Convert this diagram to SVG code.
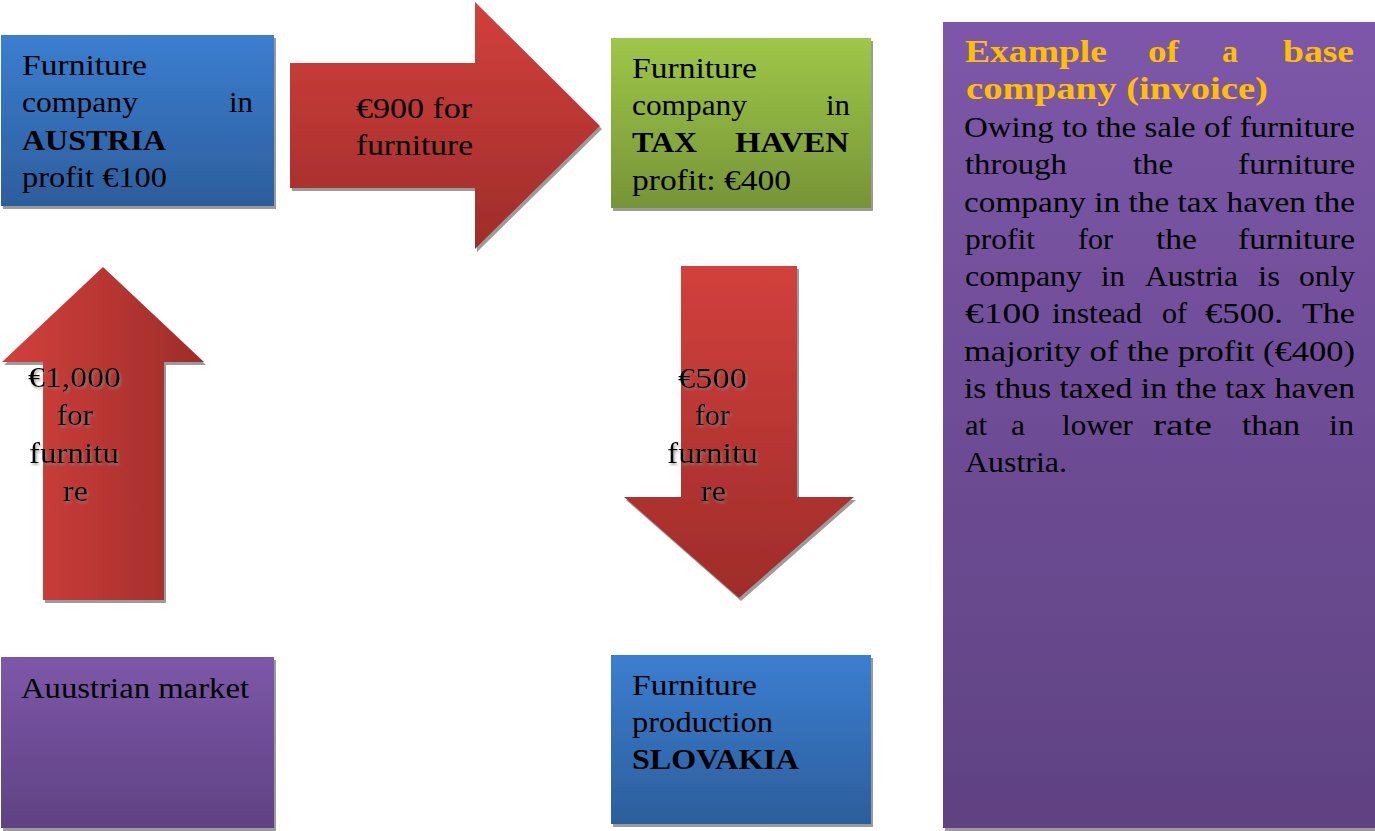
<svg xmlns="http://www.w3.org/2000/svg" width="1375" height="831" viewBox="0 0 1375 831">
<defs>
<linearGradient id="gBlue" x1="0" y1="0" x2="0" y2="1"><stop offset="0" stop-color="#3B7ED0"/><stop offset="1" stop-color="#2C5E9C"/></linearGradient>
<linearGradient id="gGreen" x1="0" y1="0" x2="0" y2="1"><stop offset="0" stop-color="#9FC748"/><stop offset="1" stop-color="#769437"/></linearGradient>
<linearGradient id="gPurple" x1="0" y1="0" x2="0" y2="1"><stop offset="0" stop-color="#7D57A9"/><stop offset="1" stop-color="#5F4282"/></linearGradient>
<linearGradient id="gRedV" x1="0" y1="0" x2="0" y2="1"><stop offset="0" stop-color="#D2403C"/><stop offset="1" stop-color="#9E2C2A"/></linearGradient>
<linearGradient id="gRedH" x1="0" y1="0" x2="1" y2="0"><stop offset="0" stop-color="#D2403C"/><stop offset="1" stop-color="#9E2C2A"/></linearGradient>
<filter id="sh" x="-5%" y="-5%" width="115%" height="115%"><feDropShadow dx="2" dy="3" stdDeviation="0.6" flood-color="#8a8a8a" flood-opacity="0.85"/></filter>
<filter id="ts" x="-10%" y="-10%" width="130%" height="130%"><feDropShadow dx="1.5" dy="2" stdDeviation="0.8" flood-color="#888888" flood-opacity="0.7"/></filter>
</defs>
<style>
.t{font-family:"Liberation Serif","Times New Roman",serif;font-size:30px;fill:#000}
.b{font-weight:bold}
.h{font-family:"Liberation Serif","Times New Roman",serif;font-size:31px;font-weight:bold;fill:#FFC000}
</style>
<rect width="1375" height="831" fill="#ffffff"/>

<g id="connectors">
 <g id="arrow-900">
  <polygon points="290,63 475,63 475,2 600,126 475,249 475,188 290,188" fill="url(#gRedV)" filter="url(#sh)"/>
  <text class="t" x="356" y="118" textLength="116" lengthAdjust="spacingAndGlyphs">€900 for</text>
  <text class="t" x="356" y="155" textLength="117" lengthAdjust="spacingAndGlyphs">furniture</text>
 </g>
 <g id="arrow-1000">
  <polygon points="103,267 204,362 164,362 164,600 43,600 43,362 2,362" fill="url(#gRedH)" filter="url(#sh)"/>
  <g filter="url(#ts)">
  <text class="t" x="28" y="387" textLength="93" lengthAdjust="spacingAndGlyphs">€1,000</text>
  <text class="t" x="57" y="425" textLength="36" lengthAdjust="spacingAndGlyphs">for</text>
  <text class="t" x="29" y="463" textLength="90" lengthAdjust="spacingAndGlyphs">furnitu</text>
  <text class="t" x="63" y="501" textLength="25" lengthAdjust="spacingAndGlyphs">re</text>
  </g>
 </g>
 <g id="arrow-500">
  <polygon points="681,266 797,266 797,497 854,497 739,598 624,497 681,497" fill="url(#gRedV)" filter="url(#sh)"/>
  <g filter="url(#ts)">
  <text class="t" x="678" y="388" textLength="69" lengthAdjust="spacingAndGlyphs">€500</text>
  <text class="t" x="695" y="425" textLength="35" lengthAdjust="spacingAndGlyphs">for</text>
  <text class="t" x="667" y="463" textLength="91" lengthAdjust="spacingAndGlyphs">furnitu</text>
  <text class="t" x="701" y="501" textLength="25" lengthAdjust="spacingAndGlyphs">re</text>
  </g>
 </g>
</g>

<g id="node-austria">
 <rect x="1" y="35" width="273" height="171" fill="url(#gBlue)" filter="url(#sh)"/>
 <text class="t" x="22" y="75" textLength="125" lengthAdjust="spacingAndGlyphs">Furniture</text>
 <text class="t" x="22" y="112" textLength="116" lengthAdjust="spacingAndGlyphs">company</text>
 <text class="t" x="229" y="112" textLength="24" lengthAdjust="spacingAndGlyphs">in</text>
 <text class="t b" x="22" y="150" textLength="144" lengthAdjust="spacingAndGlyphs">AUSTRIA</text>
 <text class="t" x="22" y="187" textLength="145" lengthAdjust="spacingAndGlyphs">profit €100</text>
</g>

<g id="node-taxhaven">
 <rect x="611" y="38" width="260" height="170" fill="url(#gGreen)" filter="url(#sh)"/>
 <text class="t" x="632" y="78" textLength="125" lengthAdjust="spacingAndGlyphs">Furniture</text>
 <text class="t" x="632" y="115" textLength="115" lengthAdjust="spacingAndGlyphs">company</text>
 <text class="t" x="826" y="115" textLength="24" lengthAdjust="spacingAndGlyphs">in</text>
 <text class="t b" x="632" y="152" textLength="65" lengthAdjust="spacingAndGlyphs">TAX</text>
 <text class="t b" x="735" y="152" textLength="114" lengthAdjust="spacingAndGlyphs">HAVEN</text>
 <text class="t" x="632" y="190" textLength="159" lengthAdjust="spacingAndGlyphs">profit: €400</text>
</g>

<g id="node-market">
 <rect x="1" y="657" width="273" height="171" fill="url(#gPurple)" filter="url(#sh)"/>
 <text class="t" x="21" y="698" textLength="228" lengthAdjust="spacingAndGlyphs">Auustrian market</text>
</g>

<g id="node-slovakia">
 <rect x="611" y="655" width="260" height="169" fill="url(#gBlue)" filter="url(#sh)"/>
 <text class="t" x="632" y="695" textLength="125" lengthAdjust="spacingAndGlyphs">Furniture</text>
 <text class="t" x="632" y="732" textLength="141" lengthAdjust="spacingAndGlyphs">production</text>
 <text class="t b" x="632" y="769" textLength="167" lengthAdjust="spacingAndGlyphs">SLOVAKIA</text>
</g>

<g id="node-explanation">
 <rect x="943" y="22" width="432" height="806" fill="url(#gPurple)" filter="url(#sh)"/>
 <text class="h" x="965" y="62" textLength="142" lengthAdjust="spacingAndGlyphs">Example</text>
 <text class="h" x="1148" y="62" textLength="31" lengthAdjust="spacingAndGlyphs">of</text>
 <text class="h" x="1222" y="62" textLength="16" lengthAdjust="spacingAndGlyphs">a</text>
 <text class="h" x="1283" y="62" textLength="71" lengthAdjust="spacingAndGlyphs">base</text>
 <text class="h" x="966" y="99" textLength="302" lengthAdjust="spacingAndGlyphs">company (invoice)</text>

 <text class="t" x="964" y="137" textLength="391" lengthAdjust="spacingAndGlyphs">Owing to the sale of furniture</text>

 <text class="t" x="965" y="174" textLength="102" lengthAdjust="spacingAndGlyphs">through</text>
 <text class="t" x="1133" y="174" textLength="40" lengthAdjust="spacingAndGlyphs">the</text>
 <text class="t" x="1238" y="174" textLength="117" lengthAdjust="spacingAndGlyphs">furniture</text>

 <text class="t" x="964" y="211.5" textLength="391" lengthAdjust="spacingAndGlyphs">company in the tax haven the</text>

 <text class="t" x="965" y="249" textLength="70" lengthAdjust="spacingAndGlyphs">profit</text>
 <text class="t" x="1078" y="249" textLength="35" lengthAdjust="spacingAndGlyphs">for</text>
 <text class="t" x="1156" y="249" textLength="41" lengthAdjust="spacingAndGlyphs">the</text>
 <text class="t" x="1238" y="249" textLength="117" lengthAdjust="spacingAndGlyphs">furniture</text>

 <text class="t" x="965" y="286" textLength="117" lengthAdjust="spacingAndGlyphs">company</text>
 <text class="t" x="1101" y="286" textLength="24" lengthAdjust="spacingAndGlyphs">in</text>
 <text class="t" x="1145" y="286" textLength="93" lengthAdjust="spacingAndGlyphs">Austria</text>
 <text class="t" x="1258" y="286" textLength="22" lengthAdjust="spacingAndGlyphs">is</text>
 <text class="t" x="1299" y="286" textLength="56" lengthAdjust="spacingAndGlyphs">only</text>

 <text class="t" x="965" y="323" textLength="75" lengthAdjust="spacingAndGlyphs">€100</text>
 <text class="t" x="1052" y="323" textLength="90" lengthAdjust="spacingAndGlyphs">instead</text>
 <text class="t" x="1162" y="323" textLength="25" lengthAdjust="spacingAndGlyphs">of</text>
 <text class="t" x="1205" y="323" textLength="78" lengthAdjust="spacingAndGlyphs">€500.</text>
 <text class="t" x="1302" y="323" textLength="53" lengthAdjust="spacingAndGlyphs">The</text>

 <text class="t" x="964" y="360.5" textLength="391" lengthAdjust="spacingAndGlyphs">majority of the profit (€400)</text>
 <text class="t" x="964" y="397.5" textLength="391" lengthAdjust="spacingAndGlyphs">is thus taxed in the tax haven</text>

 <text class="t" x="965" y="435" textLength="22" lengthAdjust="spacingAndGlyphs">at</text>
 <text class="t" x="1011" y="435" textLength="14" lengthAdjust="spacingAndGlyphs">a</text>
 <text class="t" x="1062" y="435" textLength="71" lengthAdjust="spacingAndGlyphs">lower</text>
 <text class="t" x="1153" y="435" textLength="59" lengthAdjust="spacingAndGlyphs">rate</text>
 <text class="t" x="1242" y="435" textLength="58" lengthAdjust="spacingAndGlyphs">than</text>
 <text class="t" x="1329" y="435" textLength="25" lengthAdjust="spacingAndGlyphs">in</text>

 <text class="t" x="965" y="472" textLength="102" lengthAdjust="spacingAndGlyphs">Austria.</text>
</g>
</svg>
